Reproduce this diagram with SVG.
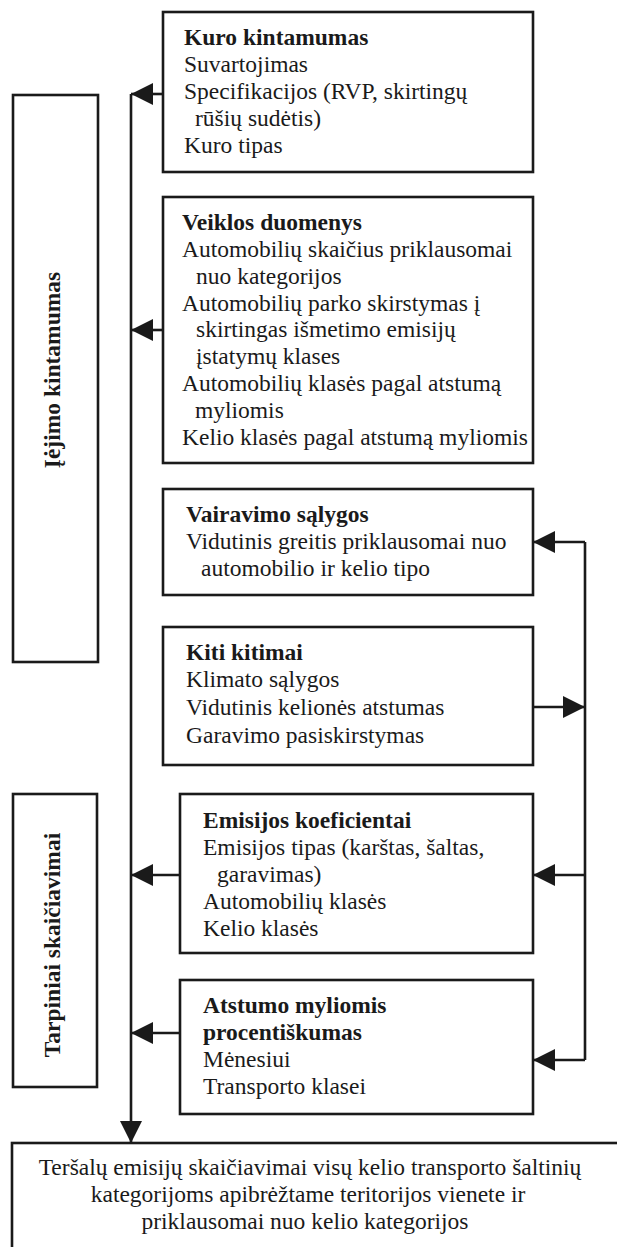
<svg xmlns="http://www.w3.org/2000/svg" width="617" height="1247" viewBox="0 0 617 1247">
<style>
text{font-family:"Liberation Serif","Times New Roman",serif;font-size:23.5px;fill:#1a1a1a}
.b{font-weight:bold}
.box{fill:#fff;stroke:#1a1a1a;stroke-width:2.6}
.ln{fill:none;stroke:#1a1a1a;stroke-width:2.6}
.m{text-anchor:middle}
</style>
<defs>
<marker id="ah" markerUnits="userSpaceOnUse" markerWidth="22" markerHeight="22" refX="22" refY="11" orient="auto">
<path d="M0,0 L22,11 L0,22 z" fill="#1a1a1a"/>
</marker>
</defs>
<rect width="617" height="1247" fill="#fff"/>
<g id="ieejimo">
<rect class="box" x="13" y="95" width="85" height="567"/>
<text class="b m" transform="translate(60,370) rotate(-90)">Įėjimo kintamumas</text>
</g>
<g id="tarpiniai">
<rect class="box" x="13" y="794" width="84" height="293"/>
<text class="b m" transform="translate(60,945) rotate(-90)">Tarpiniai skaičiavimai</text>
</g>
<g id="kuro">
<rect class="box" x="163" y="12" width="370" height="160"/>
<text class="b" x="184" y="45">Kuro kintamumas</text>
<text x="184" y="72">Suvartojimas</text>
<text x="184" y="99">Specifikacijos (RVP, skirtingų</text>
<text x="195" y="126">rūšių sudėtis)</text>
<text x="184" y="153">Kuro tipas</text>
</g>
<g id="veiklos">
<rect class="box" x="163" y="197" width="370" height="266"/>
<text class="b" x="182" y="230">Veiklos duomenys</text>
<text x="182" y="257">Automobilių skaičius priklausomai</text>
<text x="196" y="284">nuo kategorijos</text>
<text x="182" y="311">Automobilių parko skirstymas į</text>
<text x="196" y="337">skirtingas išmetimo emisijų</text>
<text x="196" y="364">įstatymų klases</text>
<text x="182" y="391">Automobilių klasės pagal atstumą</text>
<text x="195" y="418">myliomis</text>
<text x="182" y="445">Kelio klasės pagal atstumą myliomis</text>
</g>
<g id="vairavimo">
<rect class="box" x="163" y="489" width="370" height="106"/>
<text class="b" x="186" y="522">Vairavimo sąlygos</text>
<text x="186" y="549">Vidutinis greitis priklausomai nuo</text>
<text x="201" y="576">automobilio ir kelio tipo</text>
</g>
<g id="kiti">
<rect class="box" x="163" y="627" width="370" height="138"/>
<text class="b" x="186" y="660">Kiti kitimai</text>
<text x="186" y="687">Klimato sąlygos</text>
<text x="186" y="715">Vidutinis kelionės atstumas</text>
<text x="186" y="743">Garavimo pasiskirstymas</text>
</g>
<g id="emisijos">
<rect class="box" x="180" y="794" width="353" height="159"/>
<text class="b" x="203" y="828">Emisijos koeficientai</text>
<text x="203" y="855">Emisijos tipas (karštas, šaltas,</text>
<text x="217" y="882">garavimas)</text>
<text x="203" y="909">Automobilių klasės</text>
<text x="203" y="936">Kelio klasės</text>
</g>
<g id="atstumo">
<rect class="box" x="180" y="980" width="353" height="134"/>
<text class="b" x="203" y="1013">Atstumo myliomis</text>
<text class="b" x="203" y="1040">procentiškumas</text>
<text x="203" y="1067">Mėnesiui</text>
<text x="203" y="1094">Transporto klasei</text>
</g>
<g id="tersalu">
<rect class="box" x="12" y="1143" width="630" height="130"/>
<text class="m" x="310" y="1175">Teršalų emisijų skaičiavimai visų kelio transporto šaltinių</text>
<text class="m" x="308" y="1202">kategorijoms apibrėžtame teritorijos vienete ir</text>
<text class="m" x="305" y="1229">priklausomai nuo kelio kategorijos</text>
</g>
<g id="connectors">
<path class="ln" d="M131,94 L131,1143" marker-end="url(#ah)"/>
<path class="ln" d="M163,94 L131,94" marker-end="url(#ah)"/>
<path class="ln" d="M163,330 L131,330" marker-end="url(#ah)"/>
<path class="ln" d="M180,875 L131,875" marker-end="url(#ah)"/>
<path class="ln" d="M180,1033 L131,1033" marker-end="url(#ah)"/>
<path class="ln" d="M585,1060 L585,542"/>
<path class="ln" d="M585,542 L533,542" marker-end="url(#ah)"/>
<path class="ln" d="M533,707 L585,707" marker-end="url(#ah)"/>
<path class="ln" d="M585,875 L533,875" marker-end="url(#ah)"/>
<path class="ln" d="M585,1060 L533,1060" marker-end="url(#ah)"/>
</g>
</svg>
